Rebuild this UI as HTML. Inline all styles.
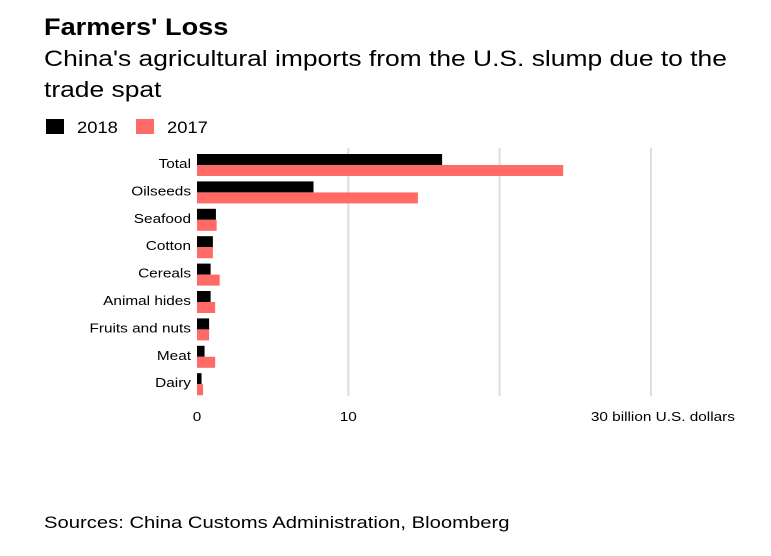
<!DOCTYPE html>
<html><head><meta charset="utf-8"><style>
body{margin:0;background:#fff;width:771px;height:551px;overflow:hidden;font-family:"Liberation Sans",Arial,sans-serif;}
svg text{font-family:"Liberation Sans",Arial,sans-serif;}
</style></head><body>
<svg id="svg" width="771" height="551">
<text x="44" y="35" font-size="24" font-weight="bold" fill="#000" data-s="1.13">Farmers' Loss</text>
<text x="44" y="66" font-size="22" fill="#000" data-s="1.2">China's agricultural imports from the U.S. slump due to the</text>
<text x="44" y="97" font-size="22" fill="#000" data-s="1.2">trade spat</text>
<rect x="46" y="119" width="18" height="15" fill="#000"/>
<text x="77" y="133" font-size="17" data-s="1.08">2018</text>
<rect x="136" y="119" width="18" height="15" fill="#ff6a66"/>
<text x="167" y="133" font-size="17" data-s="1.08">2017</text>
<g id="plot"></g>
<text x="44" y="528" font-size="17" fill="#000" data-s="1.19">Sources: China Customs Administration, Bloomberg</text>
</svg>
<script>
const categories=["Total","Oilseeds","Seafood","Cotton","Cereals","Animal hides","Fruits and nuts","Meat","Dairy"];
const values2018=[16.2,7.7,1.25,1.05,0.9,0.9,0.8,0.5,0.3];
const values2017=[24.2,14.6,1.3,1.05,1.5,1.2,0.8,1.2,0.4];
const ticks=[0,10,20,30];
const tickLabels=["0","10","","30 billion U.S. dollars"];
const NS="http://www.w3.org/2000/svg";
const g=document.getElementById('plot');
const x=v=>197+v*15.13;
const rowY=i=>154+i*27.4;
function mk(t,a){const e=document.createElementNS(NS,t);for(const k in a)e.setAttribute(k,a[k]);g.appendChild(e);return e;}
ticks.forEach((t,i)=>{
  if(t>0){const l=mk('line',{x1:x(t),x2:x(t),y1:148,y2:396,stroke:'#dcdcdc','stroke-width':2});
  
  }
  const tx=mk('text',{x:i===3?x(t)+12:x(t),y:421,'font-size':13,'text-anchor':'middle',fill:'#000','data-s':'1.18'});
  tx.textContent=tickLabels[i];
  
  
});
categories.forEach((c,i)=>{
  const y=rowY(i);
  const lb=mk('text',{x:191,y:y+14,'font-size':13,'text-anchor':'end',fill:'#000','data-s':'1.18'});
  lb.textContent=c;
  
  
  const b1=mk('rect',{x:x(0),y:y,width:x(values2018[i])-x(0),height:11,fill:'#000'});
  
  
  const b2=mk('rect',{x:x(0),y:y+11,width:x(values2017[i])-x(0),height:11,fill:'#ff6a66'});
  
  
});
document.querySelectorAll('text[data-s]').forEach(t=>{
  const s=parseFloat(t.getAttribute('data-s'));
  const w=t.getComputedTextLength();
  if(w>0){t.setAttribute('textLength',(w*s).toFixed(1));t.setAttribute('lengthAdjust','spacingAndGlyphs');}
});
</script>
</body></html>
